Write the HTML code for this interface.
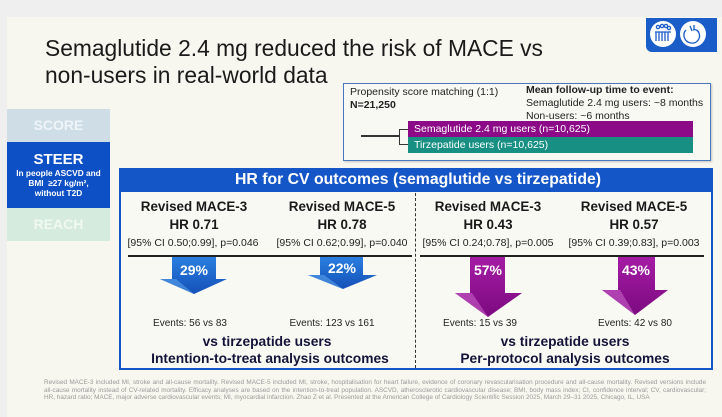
<!DOCTYPE html>
<html><head><meta charset="utf-8">
<style>
*{margin:0;padding:0;box-sizing:border-box}
html,body{width:722px;height:417px;overflow:hidden;background:#efefef;font-family:"Liberation Sans",Arial,sans-serif}
.slide{position:absolute;left:7px;top:17px;width:715px;height:400px;background:#f7f7ef}
.abs{position:absolute}
.title{left:45px;top:35px;font-size:22.8px;line-height:27px;color:#1a1a1a}
.tab{position:absolute;left:7px;width:103px;text-align:center;color:#fff;font-weight:bold}
.c{position:absolute;text-align:center;white-space:nowrap;transform:translateX(-50%)}
.h1{font-weight:bold;font-size:13.4px;color:#1a1a1a}
.ci{font-size:10.5px;color:#222}
.ev{font-size:10px;color:#222}
.bt{font-weight:bold;font-size:13.8px;color:#14143a}
.foot{position:absolute;left:44px;width:662px;font-size:6.4px;color:#9a9a9a;line-height:7.4px;text-align:justify;text-align-last:justify;white-space:nowrap}
</style></head><body>
<div class="slide"></div>

<div class="abs title">Semaglutide 2.4 mg reduced the risk of MACE vs<br>non-users in real-world data</div>

<!-- logo -->
<div class="abs" style="left:646px;top:18px;width:71px;height:34px;background:#1a5cc8;border-radius:0 0 0 6px"></div>
<svg class="abs" style="left:646px;top:18px" width="71" height="34" viewBox="0 0 71 34">
<circle cx="17" cy="16" r="13" fill="#fff"/>
<circle cx="47" cy="16" r="13" fill="#fff"/>
<g stroke="#1a5cc8" stroke-width="1.3" fill="none">
<circle cx="12" cy="9" r="1.6"/><circle cx="16" cy="8" r="1.6"/><circle cx="20" cy="8" r="1.6"/><circle cx="23" cy="10" r="1.6"/>
<path d="M9 14 h16 M10 14 v9 M13 14 v9 M16 14 v9 M19 14 v9 M22 14 v9"/>
<path d="M40 12 c-4 4 -2 12 5 13 c6 1 10 -5 8 -10 c-1 -3 -4 -4 -6 -3 M44 8 l2 5 M48 7 l0 5"/>
</g>
</svg>

<!-- tabs -->
<div class="tab" style="top:109px;height:33px;background:#cfdde6;font-size:14px;line-height:33px;color:#eef4f8">SCORE</div>
<div class="tab" style="top:142px;height:66px;background:#0d4fc4;">
<div style="font-size:15px;margin-top:9px;line-height:17px">STEER</div>
<div style="font-size:8.3px;line-height:10px">In people ASCVD and<br>BMI &nbsp;≥27 kg/m²,<br>without T2D</div>
</div>
<div class="tab" style="top:208px;height:33px;background:#d5ebdd;font-size:14px;line-height:33px;color:#f0f8f2">REACH</div>

<!-- propensity box -->
<div class="abs" style="left:343px;top:83px;width:368px;height:78px;border:1.5px solid #4a78c0;background:#f9f9f3;box-shadow:1px 1px 2px rgba(0,0,0,0.2)"></div>
<div class="abs" style="left:350px;top:86px;font-size:10.5px;color:#222;line-height:13px">Propensity score matching (1:1)<br><b>N=21,250</b></div>
<div class="abs" style="left:526px;top:84px;font-size:10.5px;color:#222;line-height:13px"><b>Mean follow-up time to event:</b><br>Semaglutide 2.4 mg users: ~8 months<br>Non-users: ~6 months</div>
<div class="abs" style="left:361px;top:135px;width:39px;height:1.5px;background:#333"></div>
<div class="abs" style="left:399px;top:129px;width:9px;height:16px;border:1.5px solid #333;border-right:none"></div>
<div class="abs" style="left:408px;top:121px;width:285px;height:16px;background:#8c0a87;color:#fff;font-size:10.5px;line-height:16px;padding-left:6px">Semaglutide 2.4 mg users (n=10,625)</div>
<div class="abs" style="left:408px;top:137px;width:285px;height:16px;background:#178f82;color:#fff;font-size:10.5px;line-height:16px;padding-left:6px">Tirzepatide users (n=10,625)</div>

<!-- HR box -->
<div class="abs" style="left:119px;top:168px;width:594px;height:202px;border:2px solid #1456c8;background:#f9f9f3"></div>
<div class="abs" style="left:119px;top:168px;width:594px;height:24px;background:#1456c8;color:#fff;font-weight:bold;font-size:15.8px;line-height:24px;text-align:center;padding-left:4px">HR for CV outcomes (semaglutide vs tirzepatide)</div>

<!-- dashed divider -->
<div class="abs" style="left:415px;top:193px;width:0;height:175px;border-left:1.5px dashed #333"></div>
<!-- horizontal lines -->
<div class="abs" style="left:128px;top:255px;width:284px;height:1.5px;background:#222"></div>
<div class="abs" style="left:420px;top:255px;width:284px;height:1.5px;background:#222"></div>

<!-- column texts -->
<div class="c h1" style="left:194px;top:199px">Revised MACE-3</div>
<div class="c h1" style="left:194px;top:217px">HR 0.71</div>
<div class="c ci" style="left:193px;top:237px">[95% CI 0.50;0.99], p=0.046</div>

<div class="c h1" style="left:342px;top:199px">Revised MACE-5</div>
<div class="c h1" style="left:342px;top:217px">HR 0.78</div>
<div class="c ci" style="left:342px;top:237px">[95% CI 0.62;0.99], p=0.040</div>

<div class="c h1" style="left:488px;top:199px">Revised MACE-3</div>
<div class="c h1" style="left:488px;top:217px">HR 0.43</div>
<div class="c ci" style="left:488px;top:237px">[95% CI 0.24;0.78], p=0.005</div>

<div class="c h1" style="left:634px;top:199px">Revised MACE-5</div>
<div class="c h1" style="left:634px;top:217px">HR 0.57</div>
<div class="c ci" style="left:634px;top:237px">[95% CI 0.39;0.83], p=0.003</div>

<!-- arrows -->
<svg class="abs" style="left:0;top:0" width="722" height="417">
<defs>
<linearGradient id="bg" x1="0" y1="0" x2="0" y2="1"><stop offset="0" stop-color="#2a7fe0"/><stop offset="1" stop-color="#1450b8"/></linearGradient>
<linearGradient id="pg" x1="0" y1="0" x2="0" y2="1"><stop offset="0" stop-color="#a51ca5"/><stop offset="1" stop-color="#7c0a80"/></linearGradient>
</defs>
<path d="M172 257 H216 V279 H227 L194 294 L160 279 H172 Z" fill="url(#bg)"/>
<path d="M194 294 L160 279 H176 Z" fill="#5aa0ea" opacity="0.6"/>
<path d="M320 257 H363 V275 H377 L343 289 L308 275 H320 Z" fill="url(#bg)"/>
<path d="M343 289 L308 275 H324 Z" fill="#5aa0ea" opacity="0.6"/>
<path d="M470 257 H505 V293 H522 L488 317 L455 293 H470 Z" fill="url(#pg)"/>
<path d="M488 317 L455 293 H472 Z" fill="#c860c8" opacity="0.6"/>
<path d="M618 257 H655 V290 H668 L635 315 L602 290 H618 Z" fill="url(#pg)"/>
<path d="M635 315 L602 290 H620 Z" fill="#c860c8" opacity="0.6"/>
</svg>
<div class="c" style="left:194px;top:262px;color:#fff;font-weight:bold;font-size:14px">29%</div>
<div class="c" style="left:342px;top:260px;color:#fff;font-weight:bold;font-size:14px">22%</div>
<div class="c" style="left:488px;top:262px;color:#fff;font-weight:bold;font-size:14px">57%</div>
<div class="c" style="left:636px;top:262px;color:#fff;font-weight:bold;font-size:14px">43%</div>

<div class="c ev" style="left:190px;top:318px">Events: 56 vs 83</div>
<div class="c ev" style="left:332px;top:318px">Events: 123 vs 161</div>
<div class="c ev" style="left:480px;top:318px">Events: 15 vs 39</div>
<div class="c ev" style="left:635px;top:318px">Events: 42 vs 80</div>

<div class="c bt" style="left:267px;top:334px">vs tirzepatide users</div>
<div class="c bt" style="left:270px;top:351px">Intention-to-treat analysis outcomes</div>
<div class="c bt" style="left:565px;top:334px">vs tirzepatide users</div>
<div class="c bt" style="left:565px;top:351px">Per-protocol analysis outcomes</div>

<!-- footnote -->
<div class="foot" style="top:379px">Revised MACE-3 included MI, stroke and all-cause mortality. Revised MACE-5 included MI, stroke, hospitalisation for heart failure, evidence of coronary revascularisation procedure and all-cause mortality. Revised versions include</div>
<div class="foot" style="top:386.5px">all-cause mortality instead of CV-related mortality. Efficacy analyses are based on the intention-to-treat population. ASCVD, atherosclerotic cardiovascular disease; BMI, body mass index; CI, confidence interval; CV, cardiovascular;</div>
<div class="foot" style="top:394px;text-align-last:left;width:auto">HR, hazard ratio; MACE, major adverse cardiovascular events; MI, myocardial infarction. Zhao Z et al. Presented at the American College of Cardiology Scientific Session 2025, March 29–31 2025, Chicago, IL, USA</div>
</body></html>
